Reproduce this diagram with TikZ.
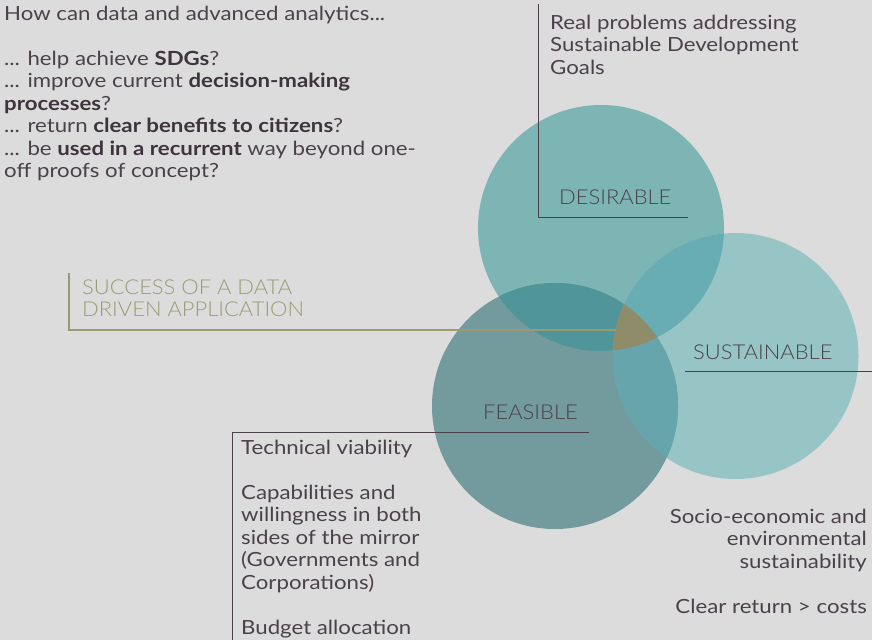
\documentclass[tikz,border=0pt]{standalone}
\usepackage{fontspec}
\setmainfont{Lato}
\newfontfamily\bodyfont{Lato}[FakeStretch=1.14]
\newfontfamily\capfont{Lato}[UprightFont=* Light, FakeStretch=1.07]
\definecolor{bgGray}{HTML}{DCDCDC}
\definecolor{inkText}{HTML}{4B414B}
\definecolor{inkBold}{HTML}{3E343E}
\definecolor{olive}{HTML}{9B9B73}
\definecolor{desFill}{HTML}{7DB5B4}
\definecolor{feaFill}{HTML}{739A9D}
\definecolor{susFill}{HTML}{97C5C5}
\definecolor{dfFill}{HTML}{4F9599}
\definecolor{dsFill}{HTML}{68ADB3}
\definecolor{fsFill}{HTML}{66A5AB}
\definecolor{allFill}{HTML}{8F8C6A}
\begin{document}
\begin{tikzpicture}[x=1pt, y=-1pt,
  % multi-line texts are placed by the baseline of their last line
  txt/.style={anchor=base west, inner sep=0pt, text=inkText, align=left,
    font=\bodyfont\fontsize{19.5}{22.5}\selectfont},
  rtxt/.style={txt, anchor=base east, align=right},
  caplabel/.style={anchor=base west, inner sep=0pt, text=inkText, align=left,
    font=\capfont\fontsize{20.5}{22.5}\selectfont},
  rule/.style={draw=inkText, line width=1pt},
  olrule/.style={draw=olive, line width=1.4pt}]
% Set the circle radius
\def\rad{123pt}

% Background and page size
\fill[bgGray] (0,0) rectangle (872,640);
\useasboundingbox (0,0) rectangle (872,640);

% Circle centres
\coordinate (des) at (601,228);
\coordinate (fea) at (555,406);
\coordinate (sus) at (735.5,356);

% Draw the circles
\fill[desFill] (des) circle (\rad);
\fill[susFill] (sus) circle (\rad);
\fill[feaFill] (fea) circle (\rad);
% Overlaps
\begin{scope}
  \clip (des) circle (\rad);
  \fill[dsFill] (sus) circle (\rad);
  \fill[dfFill] (fea) circle (\rad);
\end{scope}
\begin{scope}
  \clip (fea) circle (\rad);
  \fill[fsFill] (sus) circle (\rad);
\end{scope}
\begin{scope}
  \clip (des) circle (\rad);
  \clip (fea) circle (\rad);
  \fill[allFill] (sus) circle (\rad);
\end{scope}

% Question block
\node[txt] (quest) at (4,177.5) {How can data and advanced analytics...\\[22.5pt]
... help achieve \textbf{\color{inkBold}SDGs}?\\
... improve current \textbf{\color{inkBold}decision-making}\\
\textbf{\color{inkBold}processes}?\\
... return \textbf{\color{inkBold}clear benefits to citizens}?\\
... be \textbf{\color{inkBold}used in a recurrent} way beyond one-\\
off proofs of concept?};

% Desirable
\node[txt] (desNote) at (550,74) {Real problems addressing\\Sustainable Development\\Goals};
\node[caplabel] (desLabel) at (559,204) {DESIRABLE};
\coordinate (desTop) at (538,4);
\coordinate (desCorner) at (538,217);
\coordinate (desEnd) at (688,217);
\draw[rule] (desTop) -- (desCorner) -- (desEnd);

% Success
\node[caplabel, text=olive] (success) at (82,316.5) {SUCCESS OF A DATA\\DRIVEN APPLICATION};
\coordinate (sucTop) at (69,273);
\coordinate (sucCorner) at (69,330);
\coordinate (sucEnd) at (616,330);
\draw[olrule] (sucTop) -- (sucCorner) -- (sucEnd);

% Sustainable
\node[caplabel] (susLabel) at (693,359) {SUSTAINABLE};
\coordinate (susStart) at (685,371);
\coordinate (susEnd) at (872,371);
\draw[rule] (susStart) -- (susEnd);
\node[rtxt] (susNote) at (867,613) {Socio-economic and\\environmental\\sustainability\\[22.5pt]Clear return > costs};

% Feasible
\node[caplabel] (feaLabel) at (483,419) {FEASIBLE};
\coordinate (feaEnd) at (589,432);
\coordinate (feaCorner) at (232,432);
\coordinate (feaBottom) at (232,640);
\draw[rule] (feaEnd) -- (feaCorner) -- (feaBottom);
\node[txt] (feaNote) at (241,634) {Technical viability\\[22.5pt]
Capabilities and\\willingness in both\\sides of the mirror\\(Governments and\\Corporations)\\[22.5pt]
Budget allocation};
\end{tikzpicture}
\end{document}
